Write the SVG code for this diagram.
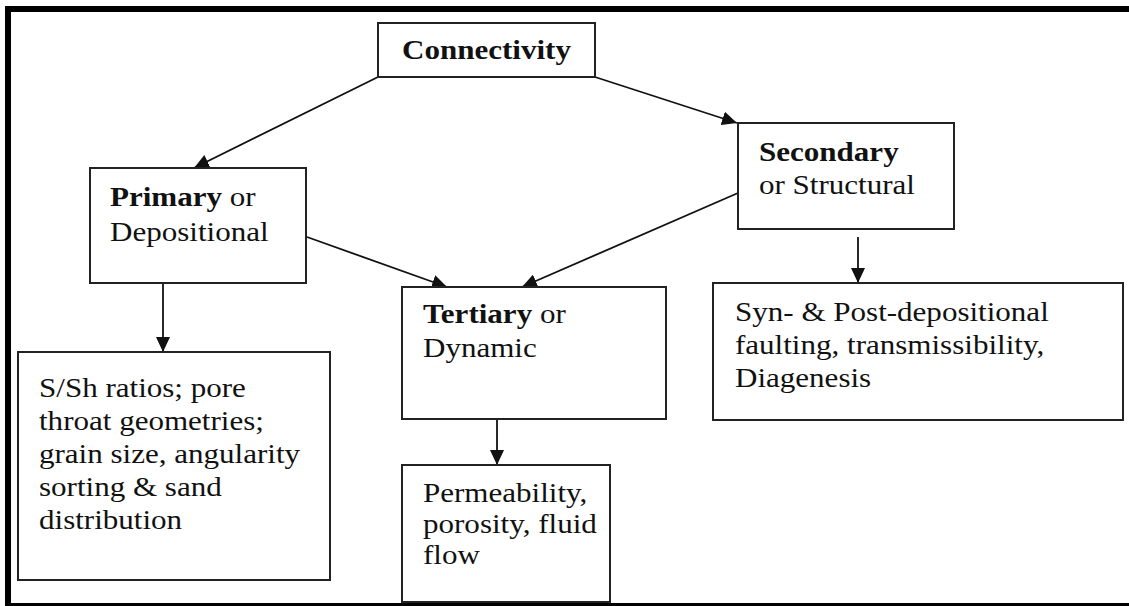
<svg xmlns="http://www.w3.org/2000/svg" width="1129" height="606" viewBox="0 0 1129 606">
<defs>
<style>
.box{fill:#fff;stroke:#222;stroke-width:2}
.t{font-family:"Liberation Serif","Times New Roman",serif;font-size:27px;fill:#111}
.b{font-weight:bold}
.c{stroke:#111;stroke-width:1.8;fill:none;marker-end:url(#ah)}
</style>
<marker id="ah" markerUnits="userSpaceOnUse" markerWidth="16" markerHeight="14" refX="15" refY="7" orient="auto">
<path d="M0,0 L15,7 L0,14 z" fill="#111"/>
</marker>
</defs>
<rect x="0" y="0" width="1129" height="606" fill="#fff"/>
<rect id="frame" x="8" y="9" width="1200" height="597" fill="none" stroke="#000" stroke-width="6"/>
<g id="connectors">
<line class="c" x1="378" y1="77" x2="194" y2="168"/>
<line class="c" x1="595" y1="77" x2="737" y2="123"/>
<line class="c" x1="307" y1="237" x2="447" y2="287"/>
<line class="c" x1="738" y1="193" x2="522" y2="287"/>
<line class="c" x1="163" y1="283" x2="163" y2="352"/>
<line class="c" x1="858" y1="237" x2="858" y2="283"/>
<line class="c" x1="497" y1="419" x2="497" y2="465"/>
</g>
<g id="connectivity">
<rect class="box" x="378" y="23" width="217" height="54"/>
<g transform="translate(486.5,59) scale(1.15,1)"><text class="t b" x="0" y="0" text-anchor="middle">Connectivity</text></g>
</g>
<g id="primary">
<rect class="box" x="90" y="168" width="216" height="115"/>
<g transform="translate(110,206) scale(1.15,1)"><text class="t" x="0" y="0"><tspan class="b">Primary</tspan> or</text><text class="t" x="0" y="35">Depositional</text></g>
</g>
<g id="secondary">
<rect class="box" x="738" y="123" width="216" height="106"/>
<g transform="translate(759,161) scale(1.15,1)"><text class="t b" x="0" y="0">Secondary</text><text class="t" x="0" y="33">or Structural</text></g>
</g>
<g id="tertiary">
<rect class="box" x="402" y="287" width="264" height="132"/>
<g transform="translate(423,323) scale(1.15,1)"><text class="t" x="0" y="0"><tspan class="b">Tertiary</tspan> or</text><text class="t" x="0" y="34">Dynamic</text></g>
</g>
<g id="primary-detail">
<rect class="box" x="18" y="352" width="312" height="228"/>
<g transform="translate(39,397) scale(1.15,1)"><text class="t" x="0" y="0">S/Sh ratios; pore</text><text class="t" x="0" y="33">throat geometries;</text><text class="t" x="0" y="66">grain size, angularity</text><text class="t" x="0" y="99">sorting &amp; sand</text><text class="t" x="0" y="132">distribution</text></g>
</g>
<g id="secondary-detail">
<rect class="box" x="713" y="283" width="410" height="137"/>
<g transform="translate(735,321) scale(1.15,1)"><text class="t" x="0" y="0">Syn- &amp; Post-depositional</text><text class="t" x="0" y="33">faulting, transmissibility,</text><text class="t" x="0" y="66">Diagenesis</text></g>
</g>
<g id="tertiary-detail">
<rect class="box" x="402" y="465" width="208" height="137"/>
<g transform="translate(423,502) scale(1.15,1)"><text class="t" x="0" y="0">Permeability,</text><text class="t" x="0" y="31">porosity, fluid</text><text class="t" x="0" y="62">flow</text></g>
</g>
</svg>
